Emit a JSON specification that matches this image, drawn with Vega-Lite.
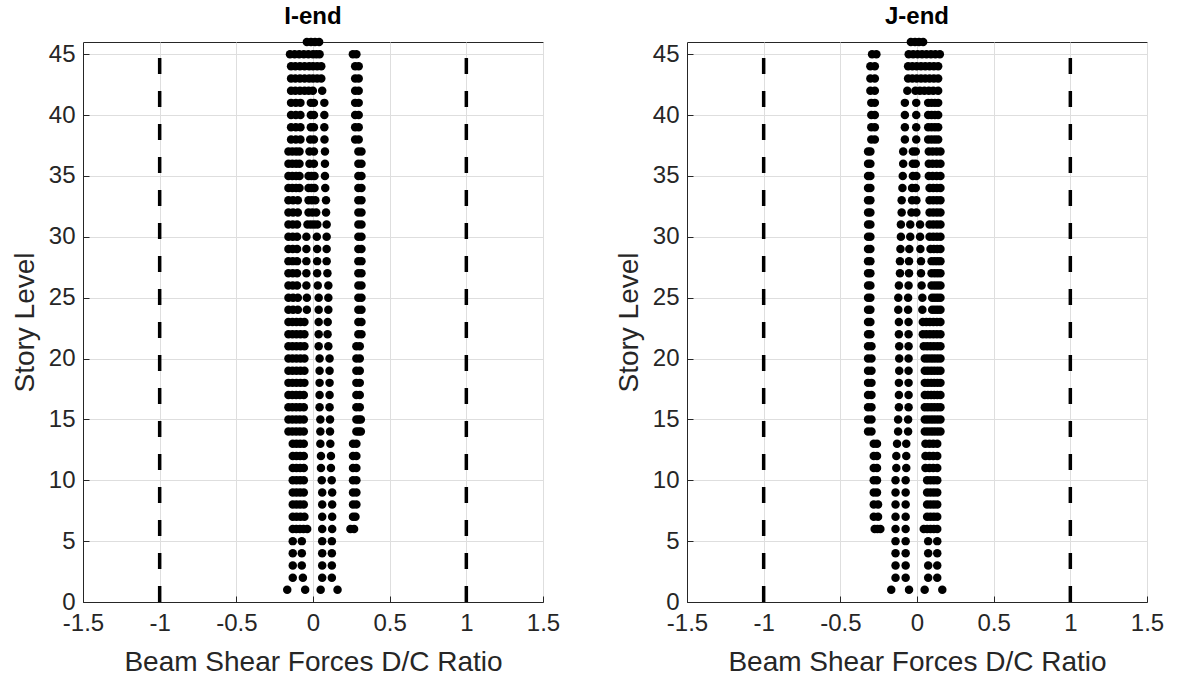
{
  "$schema": "https://vega.github.io/schema/vega-lite/v6.json",
  "background": "white",
  "padding": {"left": 10, "top": 4, "right": 5, "bottom": 5},
  "bounds": "flush",
  "spacing": 144,
  "config": {
    "font": "Liberation Sans",
    "view": {"stroke": "#262626", "strokeWidth": 1},
    "axis": {
      "domainColor": "#262626",
      "tickColor": "#262626",
      "labelColor": "#262626",
      "titleColor": "#262626",
      "labelFontSize": 24,
      "titleFontSize": 28,
      "titleFontWeight": "normal",
      "gridColor": "#dedede",
      "gridWidth": 1,
      "tickSize": -6,
      "labelFlush": false,
      "labelOverlap": false
    },
    "axisX": {"labelPadding": 15, "titlePadding": 13},
    "axisY": {"labelPadding": 14, "titlePadding": 9},
    "title": {"fontSize": 24, "fontWeight": "bold", "color": "#000000", "offset": 9}
  },
  "datasets": {
    "limits": [{"ratio": -1}, {"ratio": 1}],
    "iend": [
      {"story":46,"ratio":-0.04},{"story":46,"ratio":-0.013},{"story":46,"ratio":0.013},{"story":46,"ratio":0.04},
      {"story":45,"ratio":-0.15},{"story":45,"ratio":-0.12},{"story":45,"ratio":-0.09},{"story":45,"ratio":-0.06},{"story":45,"ratio":-0.03},{"story":45,"ratio":0},{"story":45,"ratio":0.022},{"story":45,"ratio":0.043},{"story":45,"ratio":0.26},{"story":45,"ratio":0.283},
      {"story":44,"ratio":-0.143},{"story":44,"ratio":-0.115},{"story":44,"ratio":-0.085},{"story":44,"ratio":-0.055},{"story":44,"ratio":-0.025},{"story":44,"ratio":0},{"story":44,"ratio":0.027},{"story":44,"ratio":0.054},{"story":44,"ratio":0.275},{"story":44,"ratio":0.298},
      {"story":43,"ratio":-0.143},{"story":43,"ratio":-0.115},{"story":43,"ratio":-0.085},{"story":43,"ratio":-0.055},{"story":43,"ratio":-0.025},{"story":43,"ratio":0},{"story":43,"ratio":0.027},{"story":43,"ratio":0.054},{"story":43,"ratio":0.275},{"story":43,"ratio":0.298},
      {"story":42,"ratio":-0.143},{"story":42,"ratio":-0.115},{"story":42,"ratio":-0.085},{"story":42,"ratio":-0.055},{"story":42,"ratio":-0.028},{"story":42,"ratio":-0.001},{"story":42,"ratio":0.06},{"story":42,"ratio":0.275},{"story":42,"ratio":0.298},
      {"story":41,"ratio":-0.143},{"story":41,"ratio":-0.112},{"story":41,"ratio":-0.082},{"story":41,"ratio":-0.014},{"story":41,"ratio":0.006},{"story":41,"ratio":0.074},{"story":41,"ratio":0.275},{"story":41,"ratio":0.298},
      {"story":40,"ratio":-0.143},{"story":40,"ratio":-0.112},{"story":40,"ratio":-0.082},{"story":40,"ratio":-0.014},{"story":40,"ratio":0.006},{"story":40,"ratio":0.074},{"story":40,"ratio":0.275},{"story":40,"ratio":0.298},
      {"story":39,"ratio":-0.143},{"story":39,"ratio":-0.112},{"story":39,"ratio":-0.082},{"story":39,"ratio":-0.014},{"story":39,"ratio":0.006},{"story":39,"ratio":0.074},{"story":39,"ratio":0.275},{"story":39,"ratio":0.298},
      {"story":38,"ratio":-0.143},{"story":38,"ratio":-0.112},{"story":38,"ratio":-0.082},{"story":38,"ratio":-0.018},{"story":38,"ratio":0.006},{"story":38,"ratio":0.075},{"story":38,"ratio":0.275},{"story":38,"ratio":0.298},
      {"story":37,"ratio":-0.16},{"story":37,"ratio":-0.135},{"story":37,"ratio":-0.11},{"story":37,"ratio":-0.088},{"story":37,"ratio":-0.023},{"story":37,"ratio":0.006},{"story":37,"ratio":0.078},{"story":37,"ratio":0.296},{"story":37,"ratio":0.316},
      {"story":36,"ratio":-0.16},{"story":36,"ratio":-0.135},{"story":36,"ratio":-0.11},{"story":36,"ratio":-0.088},{"story":36,"ratio":-0.023},{"story":36,"ratio":0.006},{"story":36,"ratio":0.078},{"story":36,"ratio":0.296},{"story":36,"ratio":0.316},
      {"story":35,"ratio":-0.16},{"story":35,"ratio":-0.135},{"story":35,"ratio":-0.11},{"story":35,"ratio":-0.088},{"story":35,"ratio":-0.029},{"story":35,"ratio":-0.01},{"story":35,"ratio":0.01},{"story":35,"ratio":0.078},{"story":35,"ratio":0.296},{"story":35,"ratio":0.316},
      {"story":34,"ratio":-0.16},{"story":34,"ratio":-0.135},{"story":34,"ratio":-0.11},{"story":34,"ratio":-0.088},{"story":34,"ratio":-0.029},{"story":34,"ratio":-0.01},{"story":34,"ratio":0.01},{"story":34,"ratio":0.08},{"story":34,"ratio":0.296},{"story":34,"ratio":0.316},
      {"story":33,"ratio":-0.16},{"story":33,"ratio":-0.13},{"story":33,"ratio":-0.099},{"story":33,"ratio":-0.029},{"story":33,"ratio":-0.007},{"story":33,"ratio":0.015},{"story":33,"ratio":0.085},{"story":33,"ratio":0.296},{"story":33,"ratio":0.316},
      {"story":32,"ratio":-0.16},{"story":32,"ratio":-0.13},{"story":32,"ratio":-0.099},{"story":32,"ratio":-0.029},{"story":32,"ratio":-0.004},{"story":32,"ratio":0.021},{"story":32,"ratio":0.085},{"story":32,"ratio":0.296},{"story":32,"ratio":0.316},
      {"story":31,"ratio":-0.16},{"story":31,"ratio":-0.132},{"story":31,"ratio":-0.104},{"story":31,"ratio":-0.036},{"story":31,"ratio":-0.014},{"story":31,"ratio":0.007},{"story":31,"ratio":0.028},{"story":31,"ratio":0.089},{"story":31,"ratio":0.296},{"story":31,"ratio":0.316},
      {"story":30,"ratio":-0.16},{"story":30,"ratio":-0.132},{"story":30,"ratio":-0.104},{"story":30,"ratio":-0.043},{"story":30,"ratio":0.025},{"story":30,"ratio":0.089},{"story":30,"ratio":0.296},{"story":30,"ratio":0.316},
      {"story":29,"ratio":-0.16},{"story":29,"ratio":-0.132},{"story":29,"ratio":-0.104},{"story":29,"ratio":-0.043},{"story":29,"ratio":0.027},{"story":29,"ratio":0.089},{"story":29,"ratio":0.296},{"story":29,"ratio":0.316},
      {"story":28,"ratio":-0.16},{"story":28,"ratio":-0.132},{"story":28,"ratio":-0.104},{"story":28,"ratio":-0.043},{"story":28,"ratio":0.027},{"story":28,"ratio":0.089},{"story":28,"ratio":0.296},{"story":28,"ratio":0.316},
      {"story":27,"ratio":-0.16},{"story":27,"ratio":-0.132},{"story":27,"ratio":-0.104},{"story":27,"ratio":-0.043},{"story":27,"ratio":0.027},{"story":27,"ratio":0.094},{"story":27,"ratio":0.296},{"story":27,"ratio":0.316},
      {"story":26,"ratio":-0.16},{"story":26,"ratio":-0.132},{"story":26,"ratio":-0.104},{"story":26,"ratio":-0.043},{"story":26,"ratio":0.031},{"story":26,"ratio":0.1},{"story":26,"ratio":0.296},{"story":26,"ratio":0.316},
      {"story":25,"ratio":-0.16},{"story":25,"ratio":-0.13},{"story":25,"ratio":-0.099},{"story":25,"ratio":-0.04},{"story":25,"ratio":0.037},{"story":25,"ratio":0.1},{"story":25,"ratio":0.296},{"story":25,"ratio":0.316},
      {"story":24,"ratio":-0.16},{"story":24,"ratio":-0.13},{"story":24,"ratio":-0.099},{"story":24,"ratio":-0.04},{"story":24,"ratio":0.037},{"story":24,"ratio":0.1},{"story":24,"ratio":0.296},{"story":24,"ratio":0.316},
      {"story":23,"ratio":-0.16},{"story":23,"ratio":-0.134},{"story":23,"ratio":-0.108},{"story":23,"ratio":-0.082},{"story":23,"ratio":-0.056},{"story":23,"ratio":0.037},{"story":23,"ratio":0.096},{"story":23,"ratio":0.296},{"story":23,"ratio":0.316},
      {"story":22,"ratio":-0.16},{"story":22,"ratio":-0.134},{"story":22,"ratio":-0.108},{"story":22,"ratio":-0.082},{"story":22,"ratio":-0.056},{"story":22,"ratio":0.037},{"story":22,"ratio":0.095},{"story":22,"ratio":0.296},{"story":22,"ratio":0.316},
      {"story":21,"ratio":-0.16},{"story":21,"ratio":-0.134},{"story":21,"ratio":-0.108},{"story":21,"ratio":-0.082},{"story":21,"ratio":-0.056},{"story":21,"ratio":0.037},{"story":21,"ratio":0.1},{"story":21,"ratio":0.283},{"story":21,"ratio":0.305},
      {"story":20,"ratio":-0.16},{"story":20,"ratio":-0.134},{"story":20,"ratio":-0.108},{"story":20,"ratio":-0.082},{"story":20,"ratio":-0.056},{"story":20,"ratio":0.043},{"story":20,"ratio":0.108},{"story":20,"ratio":0.283},{"story":20,"ratio":0.305},
      {"story":19,"ratio":-0.16},{"story":19,"ratio":-0.134},{"story":19,"ratio":-0.108},{"story":19,"ratio":-0.082},{"story":19,"ratio":-0.056},{"story":19,"ratio":0.043},{"story":19,"ratio":0.108},{"story":19,"ratio":0.283},{"story":19,"ratio":0.305},
      {"story":18,"ratio":-0.16},{"story":18,"ratio":-0.134},{"story":18,"ratio":-0.108},{"story":18,"ratio":-0.082},{"story":18,"ratio":-0.056},{"story":18,"ratio":0.043},{"story":18,"ratio":0.108},{"story":18,"ratio":0.283},{"story":18,"ratio":0.305},
      {"story":17,"ratio":-0.16},{"story":17,"ratio":-0.135},{"story":17,"ratio":-0.11},{"story":17,"ratio":-0.085},{"story":17,"ratio":-0.06},{"story":17,"ratio":0.043},{"story":17,"ratio":0.108},{"story":17,"ratio":0.283},{"story":17,"ratio":0.305},
      {"story":16,"ratio":-0.16},{"story":16,"ratio":-0.135},{"story":16,"ratio":-0.11},{"story":16,"ratio":-0.085},{"story":16,"ratio":-0.06},{"story":16,"ratio":0.043},{"story":16,"ratio":0.108},{"story":16,"ratio":0.283},{"story":16,"ratio":0.305},
      {"story":15,"ratio":-0.16},{"story":15,"ratio":-0.135},{"story":15,"ratio":-0.11},{"story":15,"ratio":-0.085},{"story":15,"ratio":-0.06},{"story":15,"ratio":0.048},{"story":15,"ratio":0.111},{"story":15,"ratio":0.283},{"story":15,"ratio":0.298},{"story":15,"ratio":0.312},
      {"story":14,"ratio":-0.16},{"story":14,"ratio":-0.135},{"story":14,"ratio":-0.11},{"story":14,"ratio":-0.085},{"story":14,"ratio":-0.06},{"story":14,"ratio":0.048},{"story":14,"ratio":0.111},{"story":14,"ratio":0.283},{"story":14,"ratio":0.298},{"story":14,"ratio":0.312},
      {"story":13,"ratio":-0.132},{"story":13,"ratio":-0.108},{"story":13,"ratio":-0.084},{"story":13,"ratio":-0.06},{"story":13,"ratio":0.048},{"story":13,"ratio":0.113},{"story":13,"ratio":0.261},{"story":13,"ratio":0.283},
      {"story":12,"ratio":-0.132},{"story":12,"ratio":-0.108},{"story":12,"ratio":-0.084},{"story":12,"ratio":-0.06},{"story":12,"ratio":0.052},{"story":12,"ratio":0.117},{"story":12,"ratio":0.261},{"story":12,"ratio":0.283},
      {"story":11,"ratio":-0.132},{"story":11,"ratio":-0.108},{"story":11,"ratio":-0.084},{"story":11,"ratio":-0.06},{"story":11,"ratio":0.052},{"story":11,"ratio":0.117},{"story":11,"ratio":0.261},{"story":11,"ratio":0.283},
      {"story":10,"ratio":-0.132},{"story":10,"ratio":-0.108},{"story":10,"ratio":-0.084},{"story":10,"ratio":-0.06},{"story":10,"ratio":0.057},{"story":10,"ratio":0.122},{"story":10,"ratio":0.261},{"story":10,"ratio":0.283},
      {"story":9,"ratio":-0.132},{"story":9,"ratio":-0.108},{"story":9,"ratio":-0.084},{"story":9,"ratio":-0.06},{"story":9,"ratio":0.06},{"story":9,"ratio":0.125},{"story":9,"ratio":0.261},{"story":9,"ratio":0.283},
      {"story":8,"ratio":-0.132},{"story":8,"ratio":-0.108},{"story":8,"ratio":-0.084},{"story":8,"ratio":-0.06},{"story":8,"ratio":0.06},{"story":8,"ratio":0.125},{"story":8,"ratio":0.261},{"story":8,"ratio":0.283},
      {"story":7,"ratio":-0.132},{"story":7,"ratio":-0.107},{"story":7,"ratio":-0.082},{"story":7,"ratio":-0.056},{"story":7,"ratio":0.06},{"story":7,"ratio":0.125},{"story":7,"ratio":0.261},{"story":7,"ratio":0.277},
      {"story":6,"ratio":-0.132},{"story":6,"ratio":-0.109},{"story":6,"ratio":-0.085},{"story":6,"ratio":-0.062},{"story":6,"ratio":-0.038},{"story":6,"ratio":0.06},{"story":6,"ratio":0.125},{"story":6,"ratio":0.244},{"story":6,"ratio":0.268},
      {"story":5,"ratio":-0.132},{"story":5,"ratio":-0.073},{"story":5,"ratio":0.06},{"story":5,"ratio":0.123},
      {"story":4,"ratio":-0.132},{"story":4,"ratio":-0.073},{"story":4,"ratio":0.06},{"story":4,"ratio":0.123},
      {"story":3,"ratio":-0.132},{"story":3,"ratio":-0.073},{"story":3,"ratio":0.06},{"story":3,"ratio":0.123},
      {"story":2,"ratio":-0.132},{"story":2,"ratio":-0.066},{"story":2,"ratio":0.06},{"story":2,"ratio":0.123},
      {"story":1,"ratio":-0.168},{"story":1,"ratio":-0.051},{"story":1,"ratio":0.05},{"story":1,"ratio":0.16}
    ],
    "jend": [
      {"story":46,"ratio":-0.04},{"story":46,"ratio":-0.013},{"story":46,"ratio":0.013},{"story":46,"ratio":0.04},
      {"story":45,"ratio":-0.293},{"story":45,"ratio":-0.265},{"story":45,"ratio":-0.054},{"story":45,"ratio":-0.025},{"story":45,"ratio":0.004},{"story":45,"ratio":0.033},{"story":45,"ratio":0.062},{"story":45,"ratio":0.091},{"story":45,"ratio":0.12},{"story":45,"ratio":0.149},
      {"story":44,"ratio":-0.304},{"story":44,"ratio":-0.275},{"story":44,"ratio":-0.058},{"story":44,"ratio":-0.03},{"story":44,"ratio":-0.002},{"story":44,"ratio":0.026},{"story":44,"ratio":0.054},{"story":44,"ratio":0.082},{"story":44,"ratio":0.11},{"story":44,"ratio":0.138},
      {"story":43,"ratio":-0.304},{"story":43,"ratio":-0.275},{"story":43,"ratio":-0.058},{"story":43,"ratio":-0.03},{"story":43,"ratio":-0.002},{"story":43,"ratio":0.026},{"story":43,"ratio":0.054},{"story":43,"ratio":0.082},{"story":43,"ratio":0.11},{"story":43,"ratio":0.138},
      {"story":42,"ratio":-0.304},{"story":42,"ratio":-0.275},{"story":42,"ratio":-0.063},{"story":42,"ratio":-0.01},{"story":42,"ratio":0.019},{"story":42,"ratio":0.048},{"story":42,"ratio":0.077},{"story":42,"ratio":0.106},{"story":42,"ratio":0.138},
      {"story":41,"ratio":-0.298},{"story":41,"ratio":-0.275},{"story":41,"ratio":-0.079},{"story":41,"ratio":-0.005},{"story":41,"ratio":0.073},{"story":41,"ratio":0.095},{"story":41,"ratio":0.117},{"story":41,"ratio":0.138},
      {"story":40,"ratio":-0.298},{"story":40,"ratio":-0.275},{"story":40,"ratio":-0.079},{"story":40,"ratio":-0.005},{"story":40,"ratio":0.073},{"story":40,"ratio":0.095},{"story":40,"ratio":0.117},{"story":40,"ratio":0.138},
      {"story":39,"ratio":-0.298},{"story":39,"ratio":-0.275},{"story":39,"ratio":-0.079},{"story":39,"ratio":-0.005},{"story":39,"ratio":0.073},{"story":39,"ratio":0.095},{"story":39,"ratio":0.117},{"story":39,"ratio":0.138},
      {"story":38,"ratio":-0.298},{"story":38,"ratio":-0.275},{"story":38,"ratio":-0.079},{"story":38,"ratio":-0.005},{"story":38,"ratio":0.073},{"story":38,"ratio":0.095},{"story":38,"ratio":0.117},{"story":38,"ratio":0.138},
      {"story":37,"ratio":-0.319},{"story":37,"ratio":-0.304},{"story":37,"ratio":-0.09},{"story":37,"ratio":-0.027},{"story":37,"ratio":-0.008},{"story":37,"ratio":0.077},{"story":37,"ratio":0.102},{"story":37,"ratio":0.128},{"story":37,"ratio":0.153},
      {"story":36,"ratio":-0.319},{"story":36,"ratio":-0.304},{"story":36,"ratio":-0.09},{"story":36,"ratio":-0.027},{"story":36,"ratio":-0.008},{"story":36,"ratio":0.077},{"story":36,"ratio":0.102},{"story":36,"ratio":0.128},{"story":36,"ratio":0.153},
      {"story":35,"ratio":-0.319},{"story":35,"ratio":-0.304},{"story":35,"ratio":-0.093},{"story":35,"ratio":-0.027},{"story":35,"ratio":-0.004},{"story":35,"ratio":0.077},{"story":35,"ratio":0.102},{"story":35,"ratio":0.128},{"story":35,"ratio":0.153},
      {"story":34,"ratio":-0.319},{"story":34,"ratio":-0.304},{"story":34,"ratio":-0.095},{"story":34,"ratio":-0.032},{"story":34,"ratio":-0.008},{"story":34,"ratio":0.082},{"story":34,"ratio":0.106},{"story":34,"ratio":0.13},{"story":34,"ratio":0.153},
      {"story":33,"ratio":-0.319},{"story":33,"ratio":-0.304},{"story":33,"ratio":-0.1},{"story":33,"ratio":-0.032},{"story":33,"ratio":-0.004},{"story":33,"ratio":0.082},{"story":33,"ratio":0.106},{"story":33,"ratio":0.13},{"story":33,"ratio":0.153},
      {"story":32,"ratio":-0.319},{"story":32,"ratio":-0.304},{"story":32,"ratio":-0.1},{"story":32,"ratio":-0.036},{"story":32,"ratio":-0.004},{"story":32,"ratio":0.082},{"story":32,"ratio":0.106},{"story":32,"ratio":0.13},{"story":32,"ratio":0.153},
      {"story":31,"ratio":-0.319},{"story":31,"ratio":-0.304},{"story":31,"ratio":-0.105},{"story":31,"ratio":-0.044},{"story":31,"ratio":0.02},{"story":31,"ratio":0.082},{"story":31,"ratio":0.106},{"story":31,"ratio":0.13},{"story":31,"ratio":0.153},
      {"story":30,"ratio":-0.319},{"story":30,"ratio":-0.304},{"story":30,"ratio":-0.105},{"story":30,"ratio":-0.044},{"story":30,"ratio":0.02},{"story":30,"ratio":0.082},{"story":30,"ratio":0.106},{"story":30,"ratio":0.13},{"story":30,"ratio":0.153},
      {"story":29,"ratio":-0.319},{"story":29,"ratio":-0.304},{"story":29,"ratio":-0.108},{"story":29,"ratio":-0.05},{"story":29,"ratio":0.022},{"story":29,"ratio":0.088},{"story":29,"ratio":0.11},{"story":29,"ratio":0.132},{"story":29,"ratio":0.153},
      {"story":28,"ratio":-0.319},{"story":28,"ratio":-0.304},{"story":28,"ratio":-0.111},{"story":28,"ratio":-0.052},{"story":28,"ratio":0.026},{"story":28,"ratio":0.095},{"story":28,"ratio":0.115},{"story":28,"ratio":0.134},{"story":28,"ratio":0.153},
      {"story":27,"ratio":-0.319},{"story":27,"ratio":-0.304},{"story":27,"ratio":-0.111},{"story":27,"ratio":-0.052},{"story":27,"ratio":0.026},{"story":27,"ratio":0.095},{"story":27,"ratio":0.115},{"story":27,"ratio":0.134},{"story":27,"ratio":0.153},
      {"story":26,"ratio":-0.319},{"story":26,"ratio":-0.304},{"story":26,"ratio":-0.118},{"story":26,"ratio":-0.055},{"story":26,"ratio":0.03},{"story":26,"ratio":0.095},{"story":26,"ratio":0.115},{"story":26,"ratio":0.134},{"story":26,"ratio":0.153},
      {"story":25,"ratio":-0.319},{"story":25,"ratio":-0.304},{"story":25,"ratio":-0.122},{"story":25,"ratio":-0.058},{"story":25,"ratio":0.035},{"story":25,"ratio":0.099},{"story":25,"ratio":0.117},{"story":25,"ratio":0.135},{"story":25,"ratio":0.153},
      {"story":24,"ratio":-0.319},{"story":24,"ratio":-0.304},{"story":24,"ratio":-0.122},{"story":24,"ratio":-0.058},{"story":24,"ratio":0.035},{"story":24,"ratio":0.099},{"story":24,"ratio":0.117},{"story":24,"ratio":0.135},{"story":24,"ratio":0.153},
      {"story":23,"ratio":-0.319},{"story":23,"ratio":-0.304},{"story":23,"ratio":-0.118},{"story":23,"ratio":-0.055},{"story":23,"ratio":0.038},{"story":23,"ratio":0.061},{"story":23,"ratio":0.084},{"story":23,"ratio":0.107},{"story":23,"ratio":0.13},{"story":23,"ratio":0.153},
      {"story":22,"ratio":-0.319},{"story":22,"ratio":-0.304},{"story":22,"ratio":-0.118},{"story":22,"ratio":-0.055},{"story":22,"ratio":0.038},{"story":22,"ratio":0.061},{"story":22,"ratio":0.084},{"story":22,"ratio":0.107},{"story":22,"ratio":0.13},{"story":22,"ratio":0.153},
      {"story":21,"ratio":-0.319},{"story":21,"ratio":-0.297},{"story":21,"ratio":-0.116},{"story":21,"ratio":-0.055},{"story":21,"ratio":0.044},{"story":21,"ratio":0.066},{"story":21,"ratio":0.088},{"story":21,"ratio":0.11},{"story":21,"ratio":0.132},{"story":21,"ratio":0.153},
      {"story":20,"ratio":-0.319},{"story":20,"ratio":-0.297},{"story":20,"ratio":-0.116},{"story":20,"ratio":-0.055},{"story":20,"ratio":0.051},{"story":20,"ratio":0.071},{"story":20,"ratio":0.092},{"story":20,"ratio":0.112},{"story":20,"ratio":0.133},{"story":20,"ratio":0.153},
      {"story":19,"ratio":-0.319},{"story":19,"ratio":-0.297},{"story":19,"ratio":-0.116},{"story":19,"ratio":-0.055},{"story":19,"ratio":0.051},{"story":19,"ratio":0.071},{"story":19,"ratio":0.092},{"story":19,"ratio":0.112},{"story":19,"ratio":0.133},{"story":19,"ratio":0.153},
      {"story":18,"ratio":-0.319},{"story":18,"ratio":-0.297},{"story":18,"ratio":-0.118},{"story":18,"ratio":-0.055},{"story":18,"ratio":0.051},{"story":18,"ratio":0.071},{"story":18,"ratio":0.092},{"story":18,"ratio":0.112},{"story":18,"ratio":0.133},{"story":18,"ratio":0.153},
      {"story":17,"ratio":-0.319},{"story":17,"ratio":-0.297},{"story":17,"ratio":-0.118},{"story":17,"ratio":-0.055},{"story":17,"ratio":0.051},{"story":17,"ratio":0.071},{"story":17,"ratio":0.092},{"story":17,"ratio":0.112},{"story":17,"ratio":0.133},{"story":17,"ratio":0.153},
      {"story":16,"ratio":-0.319},{"story":16,"ratio":-0.297},{"story":16,"ratio":-0.118},{"story":16,"ratio":-0.055},{"story":16,"ratio":0.051},{"story":16,"ratio":0.071},{"story":16,"ratio":0.092},{"story":16,"ratio":0.112},{"story":16,"ratio":0.133},{"story":16,"ratio":0.153},
      {"story":15,"ratio":-0.319},{"story":15,"ratio":-0.297},{"story":15,"ratio":-0.123},{"story":15,"ratio":-0.058},{"story":15,"ratio":0.051},{"story":15,"ratio":0.071},{"story":15,"ratio":0.092},{"story":15,"ratio":0.112},{"story":15,"ratio":0.133},{"story":15,"ratio":0.153},
      {"story":14,"ratio":-0.319},{"story":14,"ratio":-0.297},{"story":14,"ratio":-0.123},{"story":14,"ratio":-0.058},{"story":14,"ratio":0.051},{"story":14,"ratio":0.071},{"story":14,"ratio":0.092},{"story":14,"ratio":0.112},{"story":14,"ratio":0.133},{"story":14,"ratio":0.153},
      {"story":13,"ratio":-0.282},{"story":13,"ratio":-0.261},{"story":13,"ratio":-0.13},{"story":13,"ratio":-0.07},{"story":13,"ratio":0.055},{"story":13,"ratio":0.081},{"story":13,"ratio":0.106},{"story":13,"ratio":0.132},
      {"story":12,"ratio":-0.282},{"story":12,"ratio":-0.261},{"story":12,"ratio":-0.135},{"story":12,"ratio":-0.07},{"story":12,"ratio":0.055},{"story":12,"ratio":0.081},{"story":12,"ratio":0.106},{"story":12,"ratio":0.132},
      {"story":11,"ratio":-0.282},{"story":11,"ratio":-0.261},{"story":11,"ratio":-0.135},{"story":11,"ratio":-0.07},{"story":11,"ratio":0.055},{"story":11,"ratio":0.081},{"story":11,"ratio":0.106},{"story":11,"ratio":0.132},
      {"story":10,"ratio":-0.282},{"story":10,"ratio":-0.261},{"story":10,"ratio":-0.14},{"story":10,"ratio":-0.074},{"story":10,"ratio":0.066},{"story":10,"ratio":0.088},{"story":10,"ratio":0.11},{"story":10,"ratio":0.132},
      {"story":9,"ratio":-0.282},{"story":9,"ratio":-0.261},{"story":9,"ratio":-0.14},{"story":9,"ratio":-0.074},{"story":9,"ratio":0.066},{"story":9,"ratio":0.088},{"story":9,"ratio":0.11},{"story":9,"ratio":0.132},
      {"story":8,"ratio":-0.282},{"story":8,"ratio":-0.254},{"story":8,"ratio":-0.14},{"story":8,"ratio":-0.074},{"story":8,"ratio":0.066},{"story":8,"ratio":0.088},{"story":8,"ratio":0.11},{"story":8,"ratio":0.132},
      {"story":7,"ratio":-0.282},{"story":7,"ratio":-0.254},{"story":7,"ratio":-0.14},{"story":7,"ratio":-0.074},{"story":7,"ratio":0.066},{"story":7,"ratio":0.088},{"story":7,"ratio":0.11},{"story":7,"ratio":0.132},
      {"story":6,"ratio":-0.276},{"story":6,"ratio":-0.258},{"story":6,"ratio":-0.239},{"story":6,"ratio":-0.14},{"story":6,"ratio":-0.074},{"story":6,"ratio":0.044},{"story":6,"ratio":0.066},{"story":6,"ratio":0.088},{"story":6,"ratio":0.11},{"story":6,"ratio":0.132},
      {"story":5,"ratio":-0.14},{"story":5,"ratio":-0.074},{"story":5,"ratio":0.073},{"story":5,"ratio":0.132},
      {"story":4,"ratio":-0.14},{"story":4,"ratio":-0.074},{"story":4,"ratio":0.073},{"story":4,"ratio":0.132},
      {"story":3,"ratio":-0.14},{"story":3,"ratio":-0.074},{"story":3,"ratio":0.073},{"story":3,"ratio":0.132},
      {"story":2,"ratio":-0.14},{"story":2,"ratio":-0.074},{"story":2,"ratio":0.073},{"story":2,"ratio":0.132},
      {"story":1,"ratio":-0.168},{"story":1,"ratio":-0.052},{"story":1,"ratio":0.05},{"story":1,"ratio":0.165}
    ]
  },
  "hconcat": [
    {
      "width": 460,
      "height": 560,
      "title": {"text": "I-end", "fontSize": 24, "fontWeight": "bold"},
      "encoding": {
        "x": {
          "field": "ratio",
          "type": "quantitative",
          "title": "Beam Shear Forces D/C Ratio",
          "scale": {"domain": [-1.5, 1.5], "nice": false, "zero": false},
          "axis": {"values": [-1.5, -1, -0.5, 0, 0.5, 1, 1.5], "labelExpr": "'' + datum.value", "grid": true}
        }
      },
      "layer": [
        {
          "data": {"name": "limits"},
          "mark": {"type": "rule", "color": "#000000", "strokeWidth": 3.5, "strokeDash": [16, 17]},
          "encoding": {
            "y": {"datum": 0, "type": "quantitative", "title": "Story Level"},
            "y2": {"datum": 46}
          }
        },
        {
          "data": {"name": "iend"},
          "mark": {"type": "point", "shape": "circle", "filled": true, "size": 72, "color": "#000000", "opacity": 1, "strokeWidth": 0},
          "encoding": {
            "y": {
              "field": "story",
              "type": "quantitative",
              "title": "Story Level",
              "scale": {"domain": [0, 46], "nice": false},
              "axis": {"values": [0, 5, 10, 15, 20, 25, 30, 35, 40, 45], "labelExpr": "'' + datum.value", "grid": true}
            }
          }
        }
      ]
    },
    {
      "width": 460,
      "height": 560,
      "title": {"text": "J-end", "fontSize": 24, "fontWeight": "bold"},
      "encoding": {
        "x": {
          "field": "ratio",
          "type": "quantitative",
          "title": "Beam Shear Forces D/C Ratio",
          "scale": {"domain": [-1.5, 1.5], "nice": false, "zero": false},
          "axis": {"values": [-1.5, -1, -0.5, 0, 0.5, 1, 1.5], "labelExpr": "'' + datum.value", "grid": true}
        }
      },
      "layer": [
        {
          "data": {"name": "limits"},
          "mark": {"type": "rule", "color": "#000000", "strokeWidth": 3.5, "strokeDash": [16, 17]},
          "encoding": {
            "y": {"datum": 0, "type": "quantitative", "title": "Story Level"},
            "y2": {"datum": 46}
          }
        },
        {
          "data": {"name": "jend"},
          "mark": {"type": "point", "shape": "circle", "filled": true, "size": 72, "color": "#000000", "opacity": 1, "strokeWidth": 0},
          "encoding": {
            "y": {
              "field": "story",
              "type": "quantitative",
              "title": "Story Level",
              "scale": {"domain": [0, 46], "nice": false},
              "axis": {"values": [0, 5, 10, 15, 20, 25, 30, 35, 40, 45], "labelExpr": "'' + datum.value", "grid": true}
            }
          }
        }
      ]
    }
  ]
}
